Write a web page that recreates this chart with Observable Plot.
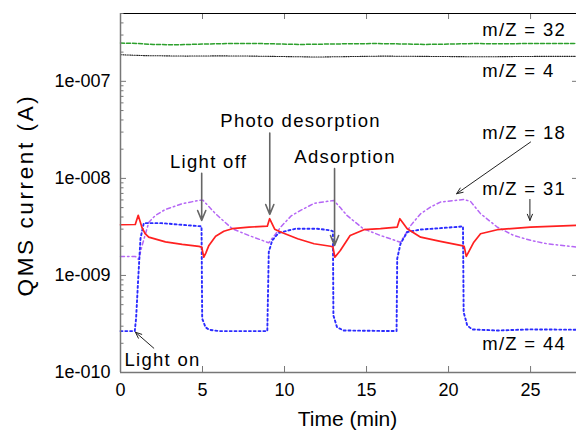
<!DOCTYPE html>
<html><head><meta charset="utf-8">
<script src="https://cdn.jsdelivr.net/npm/d3@7"></script>
<script src="https://cdn.jsdelivr.net/npm/@observablehq/plot@0.6"></script>
<style>html,body{margin:0;padding:0;background:#fff}</style>
</head><body><div id="chart"></div>
<script>
// ---- data: [time (min), QMS current (A)] ----
const m32 = [[0,2.48e-7],[1,2.46e-7],[2,2.40e-7],[3.5,2.38e-7],[5,2.42e-7],[6.5,2.45e-7],[8,2.46e-7],[9.5,2.43e-7],[11,2.40e-7],[12.5,2.42e-7],[14,2.44e-7],[15.5,2.45e-7],[17,2.43e-7],[18.5,2.40e-7],[20,2.42e-7],[21.5,2.45e-7],[23,2.44e-7],[25,2.45e-7],[27.8,2.46e-7]];
const m4 = [[0,1.88e-7],[1.5,1.84e-7],[4,1.82e-7],[6,1.83e-7],[8,1.82e-7],[10,1.80e-7],[12,1.78e-7],[14,1.80e-7],[16,1.82e-7],[18,1.81e-7],[20,1.80e-7],[22,1.79e-7],[24,1.80e-7],[26,1.81e-7],[27.8,1.81e-7]];
const m18 = [[0,1.57e-9],[0.91,1.57e-9],[1.1,1.46e-9],[1.32,2.04e-9],[1.73,3.54e-9],[2.13,4.16e-9],[2.74,4.79e-9],[3.76,5.49e-9],[4.78,5.93e-9],[5.02,5.97e-9],[5.4,5.1e-9],[5.79,4.33e-9],[6.81,3.03e-9],[7.83,2.58e-9],[9.04,2.17e-9],[9.4,2.6e-9],[9.8,3.2e-9],[10.4,4.1e-9],[10.98,4.68e-9],[11.8,5.53e-9],[13.0,5.93e-9],[13.4,5.0e-9],[13.8,4.16e-9],[14.8,3.03e-9],[15.85,2.58e-9],[17.07,2.2e-9],[17.7,3.28e-9],[18.3,4.33e-9],[18.9,5.06e-9],[19.5,5.7e-9],[20.93,6.07e-9],[21.34,5.79e-9],[21.95,4.33e-9],[22.97,3.15e-9],[23.98,2.58e-9],[25,2.3e-9],[26,2.12e-9],[27.8,1.96e-9]];
const m31 = [[0,3.33e-9],[0.9,3.35e-9],[1.08,4.16e-9],[1.3,3.15e-9],[1.5,2.69e-9],[1.72,2.48e-9],[2.2,2.35e-9],[2.74,2.22e-9],[3.76,2.09e-9],[4.78,1.99e-9],[4.95,1.96e-9],[5.08,1.54e-9],[5.2,1.7e-9],[5.39,2.04e-9],[5.8,2.54e-9],[6.3,2.85e-9],[6.81,3.03e-9],[7.83,3.15e-9],[8.95,3.22e-9],[9.09,3.84e-9],[9.4,3.0e-9],[9.76,2.8e-9],[10.8,2.39e-9],[11.8,2.12e-9],[12.8,2.0e-9],[12.95,1.97e-9],[13.07,1.54e-9],[13.4,1.81e-9],[14.0,2.58e-9],[14.84,2.96e-9],[15.85,3.03e-9],[16.87,3.15e-9],[17.03,3.84e-9],[17.48,3.03e-9],[18.3,2.48e-9],[19.5,2.24e-9],[20.73,2.04e-9],[20.95,2.0e-9],[21.08,1.57e-9],[21.54,2.2e-9],[21.95,2.69e-9],[22.97,2.96e-9],[25,3.15e-9],[27.8,3.28e-9]];
const m44 = [[0,2.67e-10],[0.87,2.67e-10],[0.95,3.6e-10],[1.08,9.3e-10],[1.22,2.41e-9],[1.42,3.46e-9],[2.5,3.46e-9],[3.5,3.35e-9],[4.78,3.22e-9],[4.94,3.2e-9],[4.98,3.6e-10],[5.18,2.93e-10],[5.39,2.76e-10],[6,2.67e-10],[8.95,2.67e-10],[9.04,1.74e-9],[9.25,2.3e-9],[9.65,2.75e-9],[10.67,3.03e-9],[12.0,3.03e-9],[12.8,2.91e-9],[12.95,2.85e-9],[12.98,3.87e-10],[13.2,2.93e-10],[13.6,2.71e-10],[16.83,2.67e-10],[16.87,1.49e-9],[17.07,2.12e-9],[17.48,2.8e-9],[18.3,2.97e-9],[19.5,3.07e-9],[20.88,3.2e-9],[20.92,4.18e-10],[21.14,3.05e-10],[21.44,2.78e-10],[22.97,2.71e-10],[25,2.78e-10],[27.8,2.76e-10]];

const xTicks = [0, 5, 10, 15, 20, 25];
const yTicks = [1e-10, 1e-9, 1e-8, 1e-7];
const yTickLabels = ["1e-010", "1e-009", "1e-008", "1e-007"];
const xTitle = "Time (min)";
const yTitle = "QMS current (A)";

const seriesLabels = ["m/Z = 32", "m/Z = 4", "m/Z = 18", "m/Z = 31", "m/Z = 44"];
const seriesLabelY = [3.36e-7, 1.27e-7, 2.93e-8, 7.83e-9, 1.94e-10];
const seriesLabelX = 22.05;

const startLabels = ["Light on"];
const startLabelX = [0.24];
const startLabelY = [1.33e-10];
const eventLabels = ["Light off", "Photo desorption", "Adsorption"];
const eventLabelX = [5.37, 10.98, 13.69];
const eventLabelY = [1.46e-8, 3.9e-8, 1.64e-8];

// arrows: [x1, y1, x2, y2]
const eventArrows = [[4.95,1.13e-8,4.95,3.69e-9],[9.1,2.93e-8,9.1,4.26e-9],[13.05,1.26e-8,13.05,2.04e-9]];
const pointerArrows = [[2.03,1.78e-10,0.91,2.6e-10],[25,2.37e-8,20.49,6.95e-9],[24.96,6.07e-9,24.96,3.69e-9]];

const yMinor = [];
for (const d of yTicks) for (let k = 2; k <= 9; k++) if (k * d <= 5e-7) yMinor.push(k * d);

const AX = "#777";
const chart = Plot.plot({
  width: 576, height: 431,
  marginLeft: 120, marginRight: 0, marginTop: 13, marginBottom: 59,
  style: {fontFamily: "'Liberation Sans', Arial, sans-serif", fontSize: "18px", background: "#fff", color: "#000"},
  x: {domain: [0, 27.8], label: null},
  y: {type: "log", domain: [1e-10, 5e-7], label: null},
  marks: [
    Plot.line(m32, {x: d => d[0], y: d => d[1], stroke: "#2ca02c", strokeWidth: 1.5, strokeDasharray: "4,2"}),
    Plot.line(m4, {x: d => d[0], y: d => d[1], stroke: "#222", strokeWidth: 1.1, strokeDasharray: "1,1.3"}),
    Plot.line(m18, {x: d => d[0], y: d => d[1], stroke: "#b566f5", strokeWidth: 1.5, strokeDasharray: "4,3,1.5,3"}),
    Plot.line(m44, {x: d => d[0], y: d => d[1], stroke: "#2b2bff", strokeWidth: 1.9, strokeDasharray: "2,2.8"}),
    Plot.line(m31, {x: d => d[0], y: d => d[1], stroke: "#ff2020", strokeWidth: 1.7}),
    Plot.ruleX([0], {stroke: AX, strokeWidth: 1.5}),
    Plot.ruleY([1e-10], {stroke: AX, strokeWidth: 1.5}),
    Plot.ruleY([5e-7], {stroke: "#000", strokeWidth: 1}),
    Plot.axisY(yTicks, {anchor: "left", tickSize: -6, tickPadding: 16, stroke: AX, fill: "#000", fontSize: 18, label: null,
      tickFormat: d => yTickLabels[yTicks.indexOf(d)]}),
    Plot.axisY(yMinor, {anchor: "left", tickSize: -3.5, stroke: AX, tickFormat: () => "", label: null}),
    Plot.axisY(yTicks, {anchor: "right", tickSize: -5, stroke: AX, tickFormat: () => "", label: null}),
    Plot.axisX(xTicks, {anchor: "bottom", tickSize: -6, tickPadding: 17, stroke: AX, fill: "#000", fontSize: 18, label: null}),
    Plot.axisX(xTicks.slice(1), {anchor: "top", tickSize: -5, stroke: AX, tickFormat: () => "", label: null}),
    Plot.arrow(eventArrows, {x1: d => d[0], y1: d => d[1], x2: d => d[2], y2: d => d[3], stroke: "#666", strokeWidth: 1.6, headLength: 10, headAngle: 45}),
    Plot.arrow(pointerArrows, {x1: d => d[0], y1: d => d[1], x2: d => d[2], y2: d => d[3], stroke: "#222", strokeWidth: 1, headLength: 10, headAngle: 45}),
    Plot.text(seriesLabels, {x: () => seriesLabelX, y: (d, i) => seriesLabelY[i], text: d => d, textAnchor: "start", fontSize: 18.5, fill: "#000"}),
    Plot.text(startLabels, {x: (d, i) => startLabelX[i], y: (d, i) => startLabelY[i], text: d => d, textAnchor: "start", fontSize: 18.5, fill: "#000"}),
    Plot.text(eventLabels, {x: (d, i) => eventLabelX[i], y: (d, i) => eventLabelY[i], text: d => d, textAnchor: "middle", fontSize: 18.5, fill: "#000"}),
    Plot.text([xTitle], {frameAnchor: "bottom", dx: -1, dy: 53, fontSize: 21, fill: "#000"})
  ]
});
document.getElementById("chart").appendChild(chart);
// y-axis title, added into the same SVG at the left margin, centred on the frame
const svg = d3.select(chart);
svg.append("text")
  .attr("transform", "translate(25,195) rotate(-90)")
  .attr("text-anchor", "middle")
  .attr("dy", "0.35em")
  .attr("font-size", 22.5)
  .attr("letter-spacing", 2.6)
  .attr("fill", "#000")
  .text(yTitle);
const spaced = new Set([...seriesLabels, ...startLabels, ...eventLabels]);
chart.querySelectorAll("text").forEach(t => {
  if (spaced.has(t.textContent)) t.setAttribute("letter-spacing", "1.3");
});
</script>
</body></html>
